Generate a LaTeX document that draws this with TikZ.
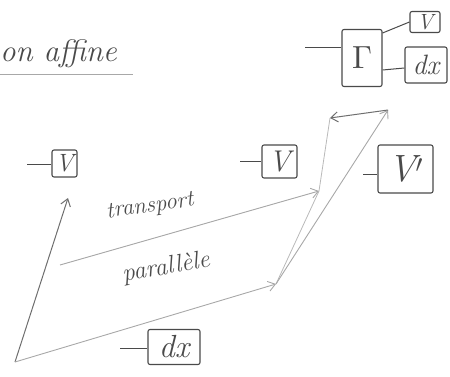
\documentclass[tikz,border=0pt]{standalone}
\usepackage{graphicx}
\usetikzlibrary{arrows.meta}
\definecolor{ink}{HTML}{4A4A4A}
\definecolor{pale}{HTML}{A8A8A8}
\definecolor{mid}{HTML}{6E6E6E}
\begin{document}
\begin{tikzpicture}[x=1pt,y=-1pt,
  tagbox/.style={draw=ink,line width=1.1pt,rounded corners=2pt,inner sep=0pt,text=ink},
  fs/.style={font=\itshape\fontsize{#1}{#1}\selectfont},
  stub/.style={draw=ink,line width=1pt},
  vec/.style={draw=pale,line width=0.9pt,-{Straight Barb[length=7pt,width=10pt]}},
  vecd/.style={draw=mid,line width=1pt,-{Straight Barb[length=7pt,width=10pt]}},
  faint/.style={draw=pale!80,line width=0.8pt},
  hand/.style={text=ink,inner sep=0pt}]
\useasboundingbox (0,0) rectangle (450,377);
% title
\node[hand,fs=31,anchor=base west] (title) at (0,62) {on affine};
\coordinate (ul1) at (0,75); \coordinate (ul2) at (133,75);
\draw[draw=pale,line width=1pt] (ul1) -- (ul2);
% Gamma group
\node[tagbox,minimum width=40pt,minimum height=57pt] (gam) at (362,58) {\scalebox{3.2}{$\Gamma$}};
\node[tagbox,fs=22,minimum width=30pt,minimum height=21pt] (gv) at (425,22) {V};
\node[tagbox,fs=28,minimum width=42pt,minimum height=36pt] (gdx) at (426,65) {dx};
\coordinate (gl) at (305,48);
\draw[stub] (gl) -- (gam.west |- gl);
\draw[stub] (gam.east |- 0,33) -- (gv.west);
\draw[stub] (gam.east |- 0,70) -- (gdx.west |- 0,68);
% boxes
\node[tagbox,fs=25,minimum width=25pt,minimum height=27pt] (v1) at (64.5,163.5) {V};
\coordinate (v1s) at (27,165); \draw[stub] (v1s) -- (v1.west |- v1s);
\node[tagbox,fs=30,minimum width=35pt,minimum height=33pt] (v2) at (279.5,161.5) {V};
\coordinate (v2s) at (240,162); \draw[stub] (v2s) -- (v2.west |- v2s);
\node[tagbox,fs=38,minimum width=55pt,minimum height=48pt] (vp) at (405.5,169) {V$'$};
\coordinate (vps) at (363,175); \draw[stub] (vps) -- (vp.west |- vps);
\node[tagbox,fs=32,minimum width=52pt,minimum height=35pt] (dx1) at (174,347) {dx};
\coordinate (dxs) at (120,348); \draw[stub] (dxs) -- (dx1.west |- dxs);
% vectors
\coordinate (O) at (15,362);
\coordinate (vt) at (68,198);
\coordinate (dxt) at (276,284);
\coordinate (a) at (60,265);
\coordinate (b) at (319,191);
\coordinate (c) at (330,118);
\coordinate (d) at (388,110);
\draw[vecd] (O) -- (vt);
\draw[vec] (O) -- (dxt);
\draw[vec] (a) -- (b);
\draw[faint] (dxt) -- (b);
\draw[faint] (b) -- (c);
\draw[vec] (dxt) -- (d);
\draw[vecd] (d) -- (c);
% label
\node[hand,fs=23,rotate=8] (tr) at (150,207) {transport};
\node[hand,fs=25,rotate=10] (pa) at (166,268) {parall\`ele};
\end{tikzpicture}
\end{document}
